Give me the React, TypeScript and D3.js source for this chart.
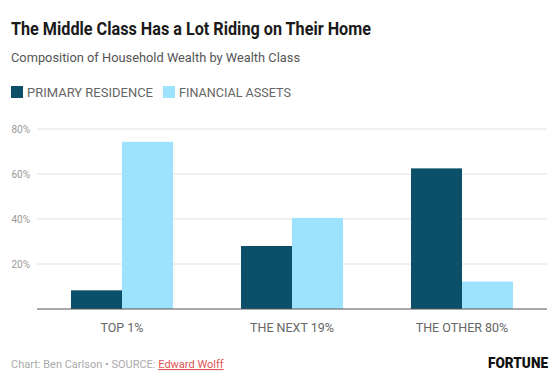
import React, { useRef, useEffect } from "react";
import * as d3 from "d3";

// data
const classes = ["TOP 1%", "THE NEXT 19%", "THE OTHER 80%"];
const seriesNames = ["PRIMARY RESIDENCE", "FINANCIAL ASSETS"];
const primaryResidence = [8.3, 28, 62.5];
const financialAssets = [74.3, 40.5, 12.2];
const yTicks = [20, 40, 60, 80];

const colors = ["#0b5068", "#9de3fd"];

const App: React.FC = () => {
  const ref = useRef<SVGSVGElement>(null);

  useEffect(() => {
    if (!ref.current) return;
    const svg = d3.select(ref.current);
    svg.selectAll("*").remove();

    const width = 560;
    const height = 392;
    const left = 37;
    const right = 547;
    const top = 129; // y of 80%
    const bottom = 309; // baseline

    svg.append("rect").attr("width", width).attr("height", height).attr("fill", "#fff");

    // title + subtitle
    svg.append("text")
      .attr("x", 11).attr("y", 35)
      .attr("font-family", "Roboto, sans-serif")
      .attr("font-weight", 700)
      .attr("font-size", 18)
      .attr("fill", "#1a1a1a")
      .attr("textLength", 360)
      .attr("lengthAdjust", "spacingAndGlyphs")
      .text("The Middle Class Has a Lot Riding on Their Home");

    svg.append("text")
      .attr("x", 11).attr("y", 62)
      .attr("font-family", "Roboto, sans-serif")
      .attr("font-size", 13)
      .attr("fill", "#555")
      .attr("textLength", 289)
      .attr("lengthAdjust", "spacingAndGlyphs")
      .text("Composition of Household Wealth by Wealth Class");

    // legend
    const legendX = [11, 163];
    const legendW = [126, 112];
    seriesNames.forEach((name, i) => {
      svg.append("rect")
        .attr("x", legendX[i]).attr("y", 86)
        .attr("width", 12).attr("height", 12)
        .attr("fill", colors[i]);
      svg.append("text")
        .attr("x", legendX[i] + 16).attr("y", 97)
        .attr("font-family", "Roboto, sans-serif")
        .attr("font-size", 12)
        .attr("fill", "#666")
        .attr("textLength", legendW[i])
        .attr("lengthAdjust", "spacingAndGlyphs")
        .text(name);
    });

    const x = d3.scaleBand<string>()
      .domain(classes)
      .range([left, right])
      .paddingInner(0.4)
      .paddingOuter(0.2);

    const xInner = d3.scaleBand<string>()
      .domain(seriesNames)
      .range([0, x.bandwidth()]);

    const y = d3.scaleLinear().domain([0, 80]).range([bottom, top]);

    // gridlines + tick labels
    const grid = svg.append("g");
    yTicks.forEach((t) => {
      grid.append("line")
        .attr("x1", left).attr("x2", right)
        .attr("y1", y(t)).attr("y2", y(t))
        .attr("stroke", "#e2e2e2").attr("stroke-width", 1);
      grid.append("text")
        .attr("x", 30).attr("y", y(t) + 4)
        .attr("text-anchor", "end")
        .attr("font-family", "Roboto, sans-serif")
        .attr("font-size", 10)
        .attr("fill", "#999")
        .text(`${t}%`);
    });

    // bars
    const series = [primaryResidence, financialAssets];
    series.forEach((vals, si) => {
      svg.append("g")
        .selectAll("rect")
        .data(vals)
        .join("rect")
        .attr("x", (_, i) => (x(classes[i]) ?? 0) + (xInner(seriesNames[si]) ?? 0))
        .attr("y", (d) => y(d))
        .attr("width", xInner.bandwidth())
        .attr("height", (d) => bottom - y(d))
        .attr("fill", colors[si]);
    });

    // baseline
    svg.append("line")
      .attr("x1", left).attr("x2", right)
      .attr("y1", bottom).attr("y2", bottom)
      .attr("stroke", "#555").attr("stroke-width", 1.2);

    // category labels
    svg.append("g")
      .selectAll("text")
      .data(classes)
      .join("text")
      .attr("x", (d) => (x(d) ?? 0) + x.bandwidth() / 2)
      .attr("y", 332)
      .attr("text-anchor", "middle")
      .attr("font-family", "Roboto, sans-serif")
      .attr("font-size", 12.5)
      .attr("fill", "#666")
      .text((d) => d);

    // footer
    const foot = svg.append("text")
      .attr("x", 11).attr("y", 368)
      .attr("font-family", "Roboto, sans-serif")
      .attr("font-size", 11)
      .attr("fill", "#aaa");
    foot.append("tspan").text("Chart: Ben Carlson \u2022 SOURCE: ");
    foot.append("tspan")
      .attr("fill", "#e05555")
      .attr("text-decoration", "underline")
      .text("Edward Wolff");

    svg.append("text")
      .attr("x", 548).attr("y", 368)
      .attr("text-anchor", "end")
      .attr("font-family", "Roboto, sans-serif")
      .attr("font-weight", 900)
      .attr("font-size", 15)
      .attr("fill", "#111")
      .attr("textLength", 60)
      .attr("lengthAdjust", "spacingAndGlyphs")
      .text("FORTUNE");
  }, []);

  return (
    <svg
      ref={ref}
      width={560}
      height={392}
      style={{ position: "absolute", left: 0, top: 0 }}
    />
  );
};

export default App;
